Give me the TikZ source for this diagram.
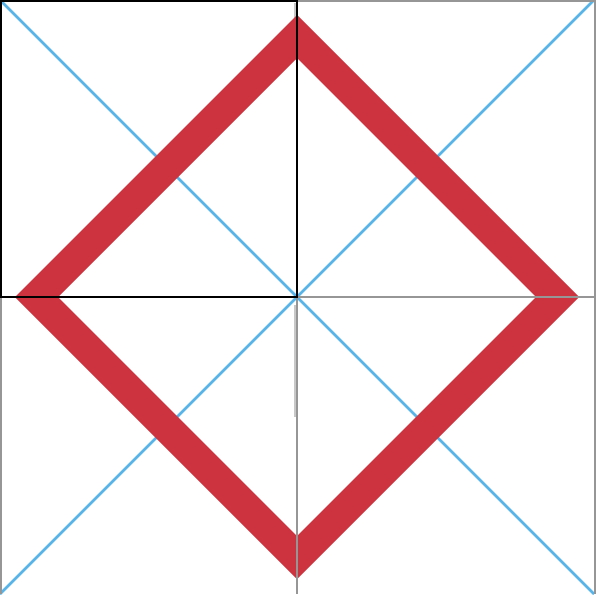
\documentclass[tikz,border=0pt]{standalone}
\begin{document}
\begin{tikzpicture}[x=1pt,y=-1pt]
\definecolor{skyblue}{RGB}{86,180,233}
\definecolor{diamondred}{RGB}{204,51,63}
\definecolor{gridgray}{RGB}{150,150,150}
\definecolor{stripgray}{RGB}{200,200,200}
\tikzset{
  blueline/.style={draw=skyblue,line width=2.6pt},
  gridline/.style={draw=gridgray,line width=2pt},
  blackline/.style={draw=black,line width=2.2pt},
  stripline/.style={draw=stripgray,line width=2pt},
  band/.style={fill=diamondred,even odd rule}
}
\useasboundingbox[fill=white] (0,0) rectangle (596,594);
\coordinate (C) at (297,297);
\coordinate (TL) at (0,0);
\coordinate (TR) at (594,0);
\coordinate (BL) at (0,594);
\coordinate (BR) at (594,594);
% faint strips
\draw[stripline] (294.5,3) -- (294.5,60);
\draw[stripline] (294.5,305) -- (294.5,417);
% diagonals
\draw[blueline] (TL) -- (BR);
\draw[blueline] (TR) -- (BL);
% red diamond band
\fill[band] (297,15) -- (579,297) -- (297,579) -- (15,297) -- cycle
            (297,58) -- (536,297) -- (297,536) -- (58,297) -- cycle;
% gray grid
\draw[gridline] (297,1) -- (596,1);
\draw[gridline] (595,0) -- (595,594);
\draw[gridline] (297,297) -- (596,297);
\draw[gridline] (297,297) -- (297,594);
\draw[gridline] (1,297) -- (1,594);
% black top-left square
\draw[blackline] (1,1) rectangle (297,297);
\end{tikzpicture}
\end{document}
